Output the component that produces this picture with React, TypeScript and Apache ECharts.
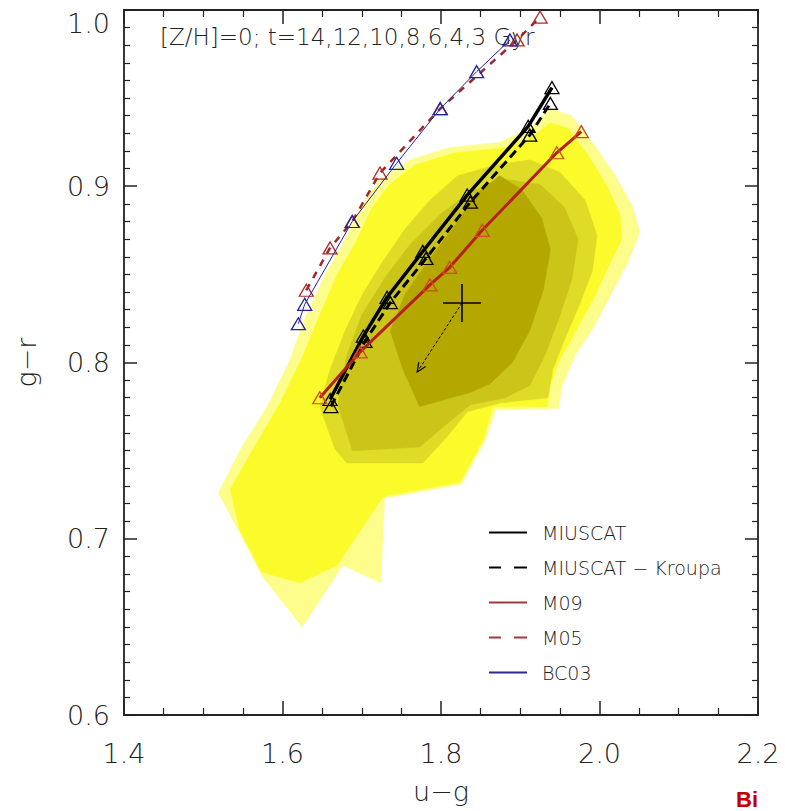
import React, { useEffect, useRef } from 'react';
import * as echarts from 'echarts';

// ---------- data (u-g, g-r) ----------
const ageLabel = '[Z/H]=0; t=14,12,10,8,6,4,3 Gyr';
const xTickValues = [1.4, 1.6, 1.8, 2.0, 2.2];
const yTickValues = [0.6, 0.7, 0.8, 0.9, 1.0];

const miuscat: number[][] = [
  [1.660, 0.779], [1.702, 0.815], [1.732, 0.837], [1.777, 0.863],
  [1.833, 0.895], [1.910, 0.934], [1.940, 0.956],
];
const miuscatKroupa: number[][] = [
  [1.661, 0.775], [1.704, 0.812], [1.736, 0.834], [1.781, 0.859],
  [1.837, 0.891], [1.912, 0.929], [1.938, 0.947],
];
const m09: number[][] = [
  [1.647, 0.780], [1.698, 0.806], [1.786, 0.844], [1.811, 0.854],
  [1.852, 0.875], [1.946, 0.919], [1.977, 0.931],
];
const m05: number[][] = [
  [1.630, 0.841], [1.660, 0.865], [1.688, 0.880], [1.723, 0.9075],
  [1.799, 0.944], [1.896, 0.983], [1.925, 0.996],
];
const bc03: number[][] = [
  [1.620, 0.822], [1.628, 0.833], [1.688, 0.880], [1.744, 0.913],
  [1.799, 0.944], [1.845, 0.965], [1.887, 0.983],
];

const crossCenter = [1.8265, 0.8338];
const crossHalf = [0.024, 0.0108];
const arrowTip = [1.770, 0.7946];

// density contour levels (outer to inner)
const level1: number[][] = [
  [1.519, 0.726], [1.546, 0.750], [1.582, 0.776], [1.609, 0.801], [1.628, 0.825],
  [1.654, 0.850], [1.679, 0.870], [1.700, 0.889], [1.723, 0.904], [1.761, 0.915],
  [1.811, 0.922], [1.874, 0.925], [1.912, 0.933], [1.938, 0.944], [1.965, 0.940],
  [1.994, 0.923], [2.020, 0.906], [2.041, 0.889], [2.051, 0.874], [2.036, 0.857],
  [2.016, 0.840], [1.994, 0.821], [1.969, 0.804], [1.953, 0.787], [1.948, 0.774],
  [1.869, 0.773], [1.856, 0.756], [1.826, 0.731], [1.729, 0.723], [1.724, 0.675],
  [1.676, 0.685], [1.625, 0.650], [1.574, 0.679], [1.544, 0.705],
];
const level2: number[][] = [
  [1.534, 0.728], [1.563, 0.751], [1.597, 0.777], [1.625, 0.803], [1.645, 0.825],
  [1.668, 0.849], [1.692, 0.868], [1.713, 0.888], [1.735, 0.901], [1.767, 0.912],
  [1.818, 0.919], [1.881, 0.922], [1.915, 0.928], [1.938, 0.936], [1.960, 0.933],
  [1.988, 0.916], [2.011, 0.899], [2.026, 0.884], [2.028, 0.870], [2.011, 0.854],
  [1.991, 0.835], [1.969, 0.817], [1.948, 0.800], [1.938, 0.787], [1.934, 0.775],
  [1.866, 0.775], [1.853, 0.756], [1.824, 0.732], [1.727, 0.724], [1.669, 0.685],
  [1.622, 0.675], [1.574, 0.681], [1.546, 0.705],
];
const level3: number[][] = [
  [1.647, 0.775], [1.660, 0.796], [1.679, 0.818], [1.700, 0.838], [1.726, 0.857],
  [1.755, 0.876], [1.786, 0.892], [1.821, 0.906], [1.868, 0.912], [1.912, 0.915],
  [1.950, 0.908], [1.982, 0.892], [1.997, 0.872], [1.991, 0.852], [1.975, 0.833],
  [1.956, 0.813], [1.941, 0.796], [1.935, 0.780], [1.874, 0.777], [1.833, 0.772],
  [1.808, 0.758], [1.777, 0.743], [1.681, 0.743], [1.666, 0.751],
];
const level4: number[][] = [
  [1.670, 0.776], [1.681, 0.804], [1.700, 0.827], [1.729, 0.848], [1.761, 0.867],
  [1.799, 0.884], [1.837, 0.897], [1.881, 0.904], [1.925, 0.901], [1.956, 0.888],
  [1.973, 0.870], [1.965, 0.847], [1.948, 0.824], [1.931, 0.804], [1.912, 0.787],
  [1.881, 0.780], [1.837, 0.776], [1.799, 0.762], [1.773, 0.752], [1.688, 0.750],
];
const level5: number[][] = [
  [1.736, 0.818], [1.755, 0.839], [1.786, 0.859], [1.818, 0.878], [1.843, 0.895],
  [1.874, 0.906], [1.902, 0.898], [1.927, 0.882], [1.938, 0.864], [1.929, 0.841],
  [1.912, 0.818], [1.890, 0.800], [1.862, 0.788], [1.837, 0.783], [1.773, 0.775],
  [1.752, 0.796],
];

// ---------- styles ----------
const FONT = "'DejaVu Sans', 'Liberation Sans', sans-serif";
const TXT = '#222';
const solidIcon = 'path://M0,0H38V2H0Z';
const dashIcon = 'path://M0,0H12V2H0Z M25,0H38V2H25Z';

function polygonSeries(name: string, poly: number[][], color: string, z: number) {
  return {
    type: 'custom',
    name,
    silent: true,
    z,
    coordinateSystem: 'cartesian2d',
    clip: true,
    data: [poly[0]],
    renderItem: (_params: any, api: any) => ({
      type: 'polygon',
      shape: { points: poly.map((p) => api.coord(p)) },
      style: { fill: color, stroke: color, lineWidth: 0.5 },
    }),
  };
}

function modelSeries(
  name: string,
  data: number[][],
  lineColor: string,
  markColor: string,
  width: number,
  type: any,
  z: number
) {
  return {
    type: 'line',
    name,
    data,
    z,
    symbol: 'triangle',
    symbolSize: [14, 12],
    showSymbol: true,
    lineStyle: { color: lineColor, width, type },
    itemStyle: { color: 'rgba(0,0,0,0)', borderColor: markColor, borderWidth: 1.3 },
    emphasis: { disabled: true },
  };
}

function axisBase(min: number, max: number, interval: number, majorLen: number, minorSplit: number, minorLen: number) {
  return {
    type: 'value',
    min,
    max,
    interval,
    axisLine: { show: true, onZero: false, lineStyle: { color: TXT, width: 1.8 } },
    axisTick: { show: true, inside: true, length: majorLen, lineStyle: { color: TXT, width: 1.5 } },
    minorTick: { show: true, splitNumber: minorSplit, length: minorLen, lineStyle: { color: TXT, width: 1.2 } },
    splitLine: { show: false },
    minorSplitLine: { show: false },
  };
}

const crossH = [
  [crossCenter[0] - crossHalf[0], crossCenter[1]],
  [crossCenter[0] + crossHalf[0], crossCenter[1]],
];
const crossV = [
  [crossCenter[0], crossCenter[1] - crossHalf[1]],
  [crossCenter[0], crossCenter[1] + crossHalf[1]],
];

export default function App() {
  const ref = useRef<HTMLDivElement>(null);

  useEffect(() => {
    if (!ref.current) return;
    const chart = echarts.init(ref.current, null, { renderer: 'svg' });
    const option: any = {
      animation: false,
      backgroundColor: '#fff',
      textStyle: { fontFamily: FONT },
      title: {
        text: ageLabel,
        left: 155,
        top: 20,
        textStyle: { fontSize: 23, fontWeight: 200, color: TXT, fontFamily: FONT },
      },
      grid: { left: 124, right: 27, top: 10, bottom: 96, containLabel: false },
      xAxis: [
        {
          ...axisBase(xTickValues[0], xTickValues[xTickValues.length - 1], 0.2, 14, 4, 7),
          position: 'bottom',
          name: 'u\u2212g',
          nameLocation: 'middle',
          nameGap: 63,
          nameTextStyle: { fontSize: 27, color: TXT, fontFamily: FONT, fontWeight: 200 },
          axisLabel: {
            show: true,
            margin: 25,
            fontSize: 27,
            color: TXT,
            fontFamily: FONT,
            fontWeight: 200,
            formatter: (v: number) => v.toFixed(1),
          },
        },
        {
          ...axisBase(xTickValues[0], xTickValues[xTickValues.length - 1], 0.2, 14, 4, 7),
          position: 'top',
          axisLabel: { show: false },
        },
      ],
      yAxis: [
        {
          ...axisBase(yTickValues[0], yTickValues[yTickValues.length - 1], 0.1, 13, 10, 6),
          position: 'left',
          name: 'g\u2212r',
          nameLocation: 'middle',
          nameGap: 84,
          nameRotate: 90,
          nameTextStyle: { fontSize: 27, color: TXT, fontFamily: FONT, fontWeight: 200 },
          axisLabel: {
            show: true,
            margin: 14,
            fontSize: 27,
            color: TXT,
            fontFamily: FONT,
            fontWeight: 200,
            verticalAlignMaxLabel: 'top',
            formatter: (v: number) => v.toFixed(1),
          },
        },
        {
          ...axisBase(yTickValues[0], yTickValues[yTickValues.length - 1], 0.1, 13, 10, 6),
          position: 'right',
          axisLabel: { show: false },
        },
      ],
      legend: {
        orient: 'vertical',
        left: 484,
        top: 518,
        itemWidth: 38,
        itemHeight: 2,
        itemGap: 16,
        selectedMode: false,
        textStyle: { fontSize: 19, color: TXT, fontFamily: FONT, fontWeight: 200, padding: [0, 0, 0, 10] },
        data: [
          { name: 'MIUSCAT', icon: solidIcon, itemStyle: { color: '#000', borderWidth: 0 } },
          { name: 'MIUSCAT \u2212 Kroupa', icon: dashIcon, itemStyle: { color: '#000', borderWidth: 0 } },
          { name: 'M09', icon: solidIcon, itemStyle: { color: '#a03a3a', borderWidth: 0 } },
          { name: 'M05', icon: dashIcon, itemStyle: { color: '#a03a3a', borderWidth: 0 } },
          { name: 'BC03', icon: solidIcon, itemStyle: { color: '#2a2a90', borderWidth: 0 } },
        ],
      },
      series: [
        polygonSeries('level1', level1, '#fdfd8c', 1),
        polygonSeries('level2', level2, '#fbfb2c', 2),
        polygonSeries('level3', level3, '#dedc26', 3),
        polygonSeries('level4', level4, '#cbc51a', 4),
        polygonSeries('level5', level5, '#b4a700', 5),
        modelSeries('MIUSCAT', miuscat, '#000', '#000', 3.5, 'solid', 10),
        modelSeries('MIUSCAT \u2212 Kroupa', miuscatKroupa, '#000', '#000', 3, [9, 5], 11),
        modelSeries('M09', m09, '#b3221a', '#d04a20', 3, 'solid', 12),
        modelSeries('M05', m05, '#a02828', '#b02a2a', 2.5, [7, 7], 13),
        modelSeries('BC03', bc03, '#24249a', '#24249a', 1, 'solid', 14),
        {
          type: 'line',
          name: 'meanV',
          data: crossV,
          z: 15,
          symbol: 'none',
          showSymbol: false,
          lineStyle: { color: '#000', width: 1.6 },
          emphasis: { disabled: true },
        },
        {
          type: 'line',
          name: 'meanH',
          data: crossH,
          z: 15,
          symbol: 'none',
          showSymbol: false,
          lineStyle: { color: '#000', width: 1.6 },
          emphasis: { disabled: true },
        },
        {
          type: 'custom',
          name: 'shift',
          z: 16,
          silent: true,
          coordinateSystem: 'cartesian2d',
          data: [[crossCenter[0], crossCenter[1], arrowTip[0], arrowTip[1]]],
          encode: { x: [0, 2], y: [1, 3] },
          renderItem: (_params: any, api: any) => {
            const a = api.coord([api.value(0), api.value(1)]);
            const b = api.coord([api.value(2), api.value(3)]);
            const ang = Math.atan2(b[1] - a[1], b[0] - a[0]);
            const L = 10;
            const w = 0.42;
            const p1 = [b[0] - L * Math.cos(ang - w), b[1] - L * Math.sin(ang - w)];
            const p2 = [b[0] - L * Math.cos(ang + w), b[1] - L * Math.sin(ang + w)];
            return {
              type: 'group',
              children: [
                {
                  type: 'line',
                  shape: { x1: a[0], y1: a[1], x2: b[0], y2: b[1] },
                  style: { stroke: '#000', lineWidth: 1, lineDash: [3, 2] },
                },
                {
                  type: 'polyline',
                  shape: { points: [p1, b, p2] },
                  style: { stroke: '#000', lineWidth: 1.2, fill: 'none' },
                },
              ],
            };
          },
        },
      ],
      graphic: [
        {
          type: 'text',
          left: 736,
          top: 788,
          silent: true,
          style: { text: 'Bi', fontSize: 22, fontWeight: 'bold', fill: '#c00000', fontFamily: "'Liberation Sans', sans-serif" },
        },
      ],
    };
    chart.setOption(option);
    return () => chart.dispose();
  }, []);

  return (
    <div
      ref={ref}
      style={{ position: 'fixed', left: 0, top: 0, width: 785, height: 811, background: '#fff' }}
    />
  );
}
